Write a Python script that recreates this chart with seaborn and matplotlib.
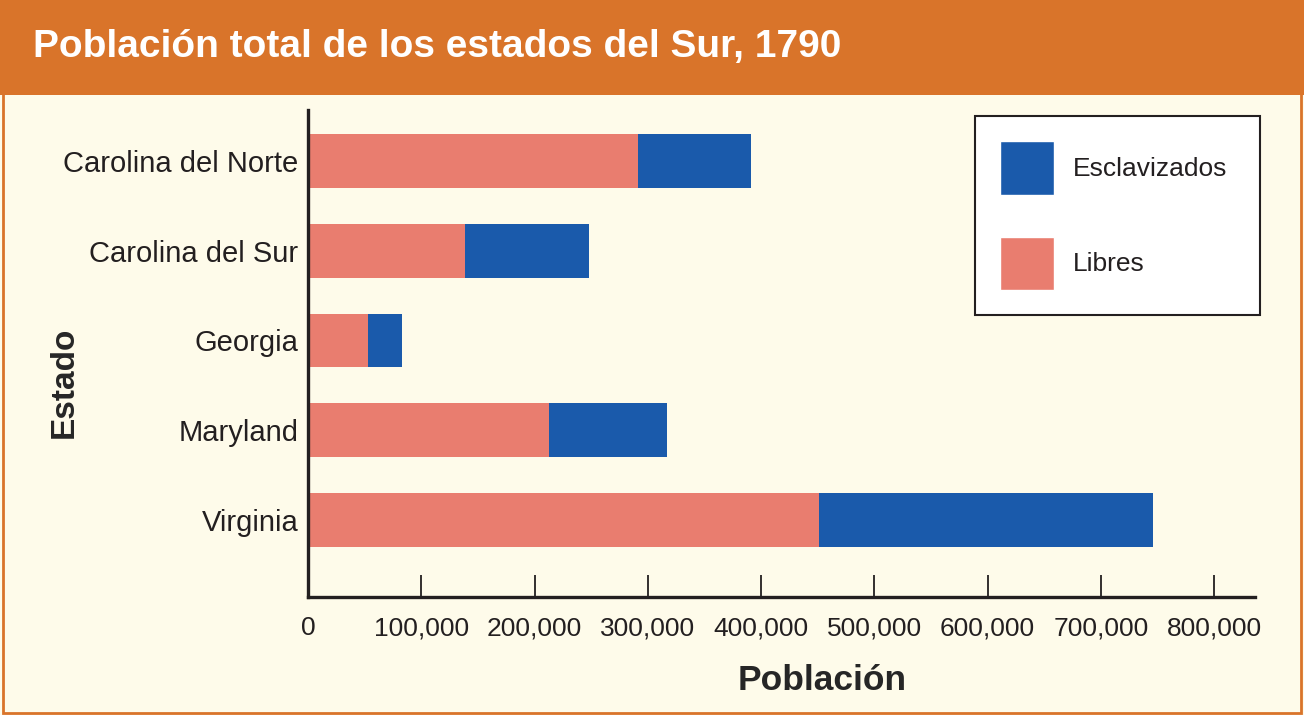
import matplotlib
matplotlib.use("Agg")
import matplotlib.pyplot as plt
from matplotlib.patches import Rectangle, Patch
import seaborn as sns
import pandas as pd

# data
estados = ["Carolina del Norte", "Carolina del Sur", "Georgia", "Maryland", "Virginia"]
libres = [291000, 139000, 53000, 213000, 451000]
esclavizados = [100000, 109000, 30000, 104000, 295000]
x_ticks = [0, 100000, 200000, 300000, 400000, 500000, 600000, 700000, 800000]
x_labels = ["0", "100,000", "200,000", "300,000", "400,000", "500,000", "600,000", "700,000", "800,000"]

df = pd.DataFrame({"Estado": estados, "Libres": libres, "Esclavizados": esclavizados})
df["Total"] = df["Libres"] + df["Esclavizados"]

salmon = "#E97D6F"
azul = "#1A5AAB"
naranja = "#D9742A"
fondo = "#FEFBEA"
tinta = "#231F20"

sns.set_theme(style="white")
plt.rcParams["font.family"] = ["Liberation Sans", "DejaVu Sans"]
plt.rcParams["text.color"] = tinta

fig = plt.figure(figsize=(13.04, 7.15), dpi=100, facecolor=fondo)
ax = fig.add_axes([308 / 1304, 1 - 597 / 715, (1255 - 308) / 1304, (597 - 110) / 715])
ax.set_facecolor(fondo)

sns.barplot(data=df, y="Estado", x="Total", color=azul, orient="h", width=0.6,
            saturation=1, ax=ax, linewidth=0)
sns.barplot(data=df, y="Estado", x="Libres", color=salmon, orient="h", width=0.6,
            saturation=1, ax=ax, linewidth=0)

ax.set_xlim(0, 836000)
ax.set_ylim(4.86, -0.57)
ax.set_xticks(x_ticks)
ax.set_xticklabels(x_labels, fontsize=19, color=tinta)
ax.tick_params(axis="x", bottom=True, direction="in", length=16, width=1.3,
               color=tinta, pad=14)
ax.tick_params(axis="y", left=False, length=0, pad=7, labelsize=21, labelcolor=tinta)
for s in ["top", "right"]:
    ax.spines[s].set_visible(False)
for s in ["left", "bottom"]:
    ax.spines[s].set_linewidth(2.4)
    ax.spines[s].set_color(tinta)

ax.set_xlabel("Población", fontsize=25.5, fontweight="bold", va="center")
ax.xaxis.set_label_coords(0.543, -0.172)
ax.set_ylabel("Estado", fontsize=24, fontweight="bold", va="center")
ax.yaxis.set_label_coords(-0.257, 0.44)

handles = [Patch(facecolor=azul, label="Esclavizados"), Patch(facecolor=salmon, label="Libres")]
leg = fig.legend(handles=handles, loc="upper left",
                 bbox_to_anchor=(975 / 1304, 1 - 318 / 715, 285 / 1304, 202 / 715),
                 mode="expand", fontsize=19, handlelength=2.05, handleheight=2.76,
                 labelspacing=1.58, borderpad=0.95, handletextpad=0.7, borderaxespad=0,
                 fancybox=False, frameon=True, edgecolor=tinta, facecolor="white",
                 framealpha=1)
leg.get_frame().set_linewidth(1.5)

# title band and outer border
fig.patches.append(Rectangle((0, 1 - 95 / 715), 1, 95 / 715, transform=fig.transFigure,
                             facecolor=naranja, edgecolor="none", zorder=0))
fig.patches.append(Rectangle((0.002, 0.003), 0.996, 0.994, transform=fig.transFigure,
                             facecolor="none", edgecolor=naranja, linewidth=2, zorder=1))
fig.text(33 / 1304, 1 - 47 / 715, "Población total de los estados del Sur, 1790",
         fontsize=28, fontweight="bold", color="white", va="center", ha="left")

fig.savefig("out.png", dpi=100, facecolor=fondo)
